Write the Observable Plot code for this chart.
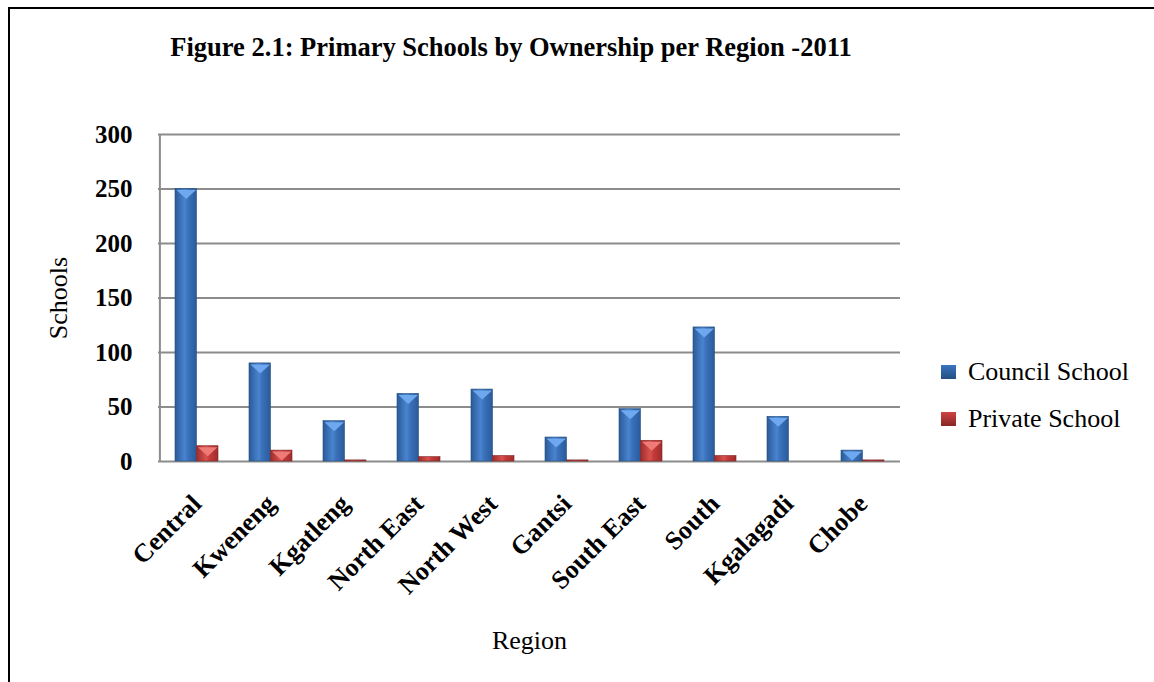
<!DOCTYPE html>
<html><head><meta charset="utf-8">
<script src="https://cdn.jsdelivr.net/npm/d3@7"></script>
<script src="https://cdn.jsdelivr.net/npm/@observablehq/plot@0.6"></script>
<style>
body{margin:0;background:#fff;font-family:"Liberation Serif","Times New Roman",serif;}
#wrap{position:relative;width:1154px;height:682px;overflow:hidden;background:#fff;}
#border{position:absolute;left:8px;top:7px;width:1300px;height:800px;border:2px solid #000;box-sizing:border-box;}
#title{position:absolute;left:0;top:30px;width:1022px;text-align:center;font-weight:bold;font-size:26.5px;line-height:34px;color:#000;}
#chart{position:absolute;left:0;top:0;}
.leg{position:absolute;left:941px;font-size:26px;line-height:30px;color:#000;white-space:nowrap;}
.leg .sw{position:absolute;left:0;top:8px;width:15px;height:14px;}
.leg .lab{position:absolute;left:27px;top:0;}
</style></head>
<body><div id="wrap">
<div id="border"></div>
<div id="title">Figure 2.1: Primary Schools by Ownership per Region -2011</div>
<div id="chart"></div>
<div id="legend"></div>
</div>
<script>
const regions = ["Central","Kweneng","Kgatleng","North East","North West","Gantsi","South East","South","Kgalagadi","Chobe"];
const councilSchools = [250,90,37,62,66,22,48,123,41,10];
const privateSchools = [14,10,1,4,5,1,19,5,0,1];
const seriesNames = ["Council School","Private School"];
const yTicks = [0,50,100,150,200,250,300];

const W = 1154, H = 682;
const mL = 158, mR = 254, mT = 134, mB = 221;
const padInner = 0.42;
const step = (W - mL - mR) / regions.length;
const bw = step * (1 - padInner);
const half = bw / 2;

const rows = regions.map((r, i) => ({region: r, council: councilSchools[i], private: privateSchools[i]}));

// bevel "V" at the top of each bar
const vSymbol = {draw(ctx) {
  const w = half / 2 - 1, h = 9;
  ctx.moveTo(-w, 0); ctx.lineTo(w, 0); ctx.lineTo(0, h); ctx.closePath();
}};

const chart = Plot.plot({
  width: W, height: H,
  marginLeft: mL, marginRight: mR, marginTop: mT, marginBottom: mB,
  style: {fontFamily: '"Liberation Serif","Times New Roman",serif', color: "#000", background: "transparent"},
  x: {domain: regions, paddingInner: padInner, paddingOuter: padInner / 2},
  y: {domain: [0, 300]},
  marks: [
    Plot.ruleY(yTicks, {stroke: "#8c8c8c", strokeWidth: 2}),
    Plot.ruleX([regions[0]], {y1: 0, y2: 300, dx: -step / 2, stroke: "#8c8c8c", strokeWidth: 2}),
    Plot.barY(rows, {x: "region", y: "council", fill: "url(#gBlue)", insetRight: half, stroke: "#24507f", strokeWidth: 0.6}),
    Plot.barY(rows.filter(d => d.private > 0), {x: "region", y: "private", fill: "url(#gRed)", insetLeft: half, stroke: "#7e2323", strokeWidth: 0.6}),
    Plot.dot(rows.filter(d => d.council >= 10), {x: "region", y: "council", symbol: vSymbol, dx: -half / 2, dy: 1, fill: "#6ea8ee", stroke: "none", r: 5}),
    Plot.dot(rows.filter(d => d.private >= 10), {x: "region", y: "private", symbol: vSymbol, dx: half / 2, dy: 1, fill: "#ee7b77", stroke: "none", r: 5}),
    Plot.axisY({ticks: yTicks, tickSize: 0, tickPadding: 26, fontSize: 25, fontWeight: "bold", label: null}),
    Plot.axisX({tickSize: 0, tickPadding: 38, tickRotate: -45, fontSize: 26, fontWeight: "bold", label: null}),
    Plot.text(["Schools"], {frameAnchor: "left", dx: -100, rotate: -90, fontSize: 26, textAnchor: "middle"}),
    Plot.text(["Region"], {frameAnchor: "bottom", dy: 187, fontSize: 26})
  ]
});

const defs = d3.select(chart).insert("defs", ":first-child");
function grad(id, edge, mid, light) {
  const g = defs.append("linearGradient").attr("id", id).attr("x1", 0).attr("x2", 1).attr("y1", 0).attr("y2", 0);
  g.append("stop").attr("offset", "0%").attr("stop-color", edge);
  g.append("stop").attr("offset", "45%").attr("stop-color", light);
  g.append("stop").attr("offset", "60%").attr("stop-color", mid);
  g.append("stop").attr("offset", "100%").attr("stop-color", edge);
}
grad("gBlue", "#2a5a98", "#3b72bd", "#4a84cf");
grad("gRed", "#a02c2c", "#c53b3a", "#d9524f");
document.getElementById("chart").appendChild(chart);

const legCols = [["#3a74c0", "#24507f"], ["#cf4442", "#862626"]];
const legTops = [357, 404];
const legend = document.getElementById("legend");
seriesNames.forEach((name, i) => {
  const d = document.createElement("div");
  d.className = "leg";
  d.style.top = legTops[i] + "px";
  d.innerHTML = `<div class="sw" style="background:linear-gradient(180deg, ${legCols[i][0]}, ${legCols[i][1]});"></div><div class="lab">${name}</div>`;
  legend.appendChild(d);
});
</script>
</body></html>
